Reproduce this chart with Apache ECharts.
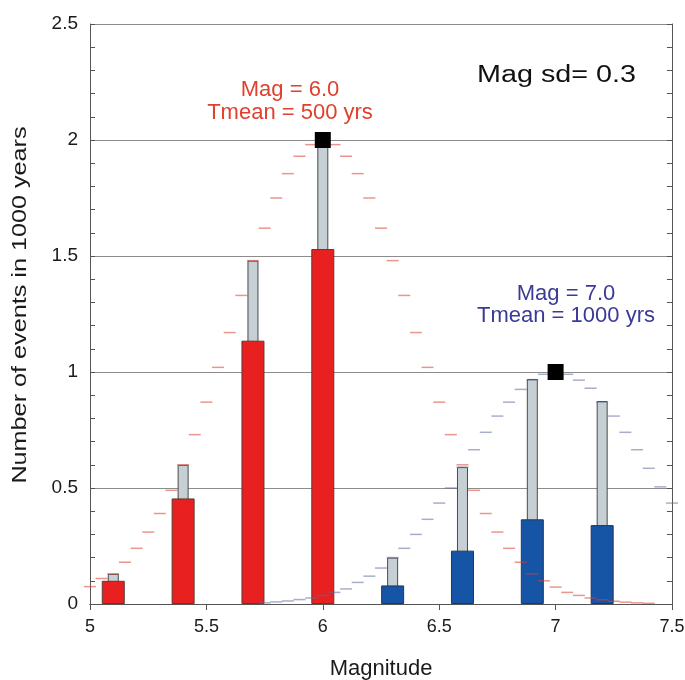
<!DOCTYPE html>
<html>
<head>
<meta charset="utf-8">
<title>Magnitude distribution</title>
<script src="https://cdn.jsdelivr.net/npm/echarts@6/dist/echarts.min.js"></script>
<style>
  html, body { margin: 0; padding: 0; background: #ffffff; }
  #chart { width: 685px; height: 680px; }
</style>
</head>
<body>
<div id="chart"></div>
<script>
// Simulated event counts per magnitude bin (coloured bars)
const redBinMag = [5.1, 5.4, 5.7, 6.0];
const redBinCount = [0.10, 0.455, 1.135, 1.53];
const blueBinMag = [6.3, 6.6, 6.9, 7.2];
const blueBinCount = [0.08, 0.23, 0.365, 0.34];

// Expected rate per bin (thin grey bars)
const expectedMag = [5.1, 5.4, 5.7, 6.0, 6.3, 6.6, 6.9, 7.2];
const expectedRate = [0.13, 0.60, 1.48, 2.0, 0.20, 0.59, 0.97, 0.875];

// Rate curve for the Mag 6.0 source (red dashes)
const redCurveMag = [5.00, 5.05, 5.10, 5.15, 5.20, 5.25, 5.30, 5.35, 5.40, 5.45,
  5.50, 5.55, 5.60, 5.65, 5.70, 5.75, 5.80, 5.85, 5.90, 5.95,
  6.00, 6.05, 6.10, 6.15, 6.20, 6.25, 6.30, 6.35, 6.40, 6.45,
  6.50, 6.55, 6.60, 6.65, 6.70, 6.75, 6.80, 6.85, 6.90, 6.95,
  7.00, 7.05, 7.10, 7.15, 7.20, 7.25, 7.30, 7.35, 7.40];
const redCurveRate = [0.075, 0.11, 0.13, 0.18, 0.24, 0.31, 0.39, 0.49, 0.60, 0.73,
  0.87, 1.02, 1.17, 1.33, 1.48, 1.62, 1.75, 1.855, 1.93, 1.98,
  2.00, 1.98, 1.93, 1.855, 1.75, 1.62, 1.48, 1.33, 1.17, 1.02,
  0.87, 0.73, 0.60, 0.49, 0.39, 0.31, 0.24, 0.18, 0.13, 0.10,
  0.073, 0.05, 0.037, 0.026, 0.018, 0.012, 0.008, 0.005, 0.003];

// Rate curve for the Mag 7.0 source (blue dashes)
const blueCurveMag = [5.75, 5.80, 5.85, 5.90, 5.95, 6.00, 6.05, 6.10, 6.15, 6.20,
  6.25, 6.30, 6.35, 6.40, 6.45, 6.50, 6.55, 6.60, 6.65, 6.70,
  6.75, 6.80, 6.85, 6.90, 6.95, 7.00, 7.05, 7.10, 7.15, 7.20,
  7.25, 7.30, 7.35, 7.40, 7.45, 7.50];
const blueCurveRate = [0.005, 0.009, 0.013, 0.019, 0.026, 0.037, 0.05, 0.065, 0.093, 0.12,
  0.155, 0.20, 0.24, 0.30, 0.365, 0.435, 0.50, 0.59, 0.665, 0.74,
  0.81, 0.87, 0.925, 0.965, 0.99, 1.0, 0.99, 0.965, 0.93, 0.87,
  0.81, 0.74, 0.665, 0.585, 0.505, 0.435];

// Characteristic magnitude / mean rate markers
const peakMag = [6.0, 7.0];
const peakRate = [2.0, 1.0];

// Axis ranges and tick steps
const magRange = [5, 7.5];
const rateRange = [0, 2.5];
const magStep = 0.5;
const rateStep = 0.5;

const FONT = '"Liberation Sans", Arial, Helvetica, sans-serif';
const pairs = (xs, ys) => xs.map((x, i) => [x, ys[i]]);

const chart = echarts.init(document.getElementById('chart'), null, { renderer: 'canvas' });

const axisLineStyle = { color: '#555555', width: 1 };

chart.setOption({
  backgroundColor: '#ffffff',
  animation: false,
  grid: {
    left: 90, top: 24, width: 582, height: 580,
    containLabel: false, outerBoundsMode: 'none'
  },
  xAxis: [
    {
      type: 'value', position: 'bottom',
      min: magRange[0], max: magRange[1], interval: magStep,
      name: 'Magnitude', nameLocation: 'middle', nameGap: 54,
      nameTextStyle: { fontFamily: FONT, fontSize: 22, color: '#1a1a1a' },
      axisLine: { show: true, lineStyle: axisLineStyle },
      axisTick: { show: true, inside: false, length: 6, lineStyle: axisLineStyle },
      axisLabel: { fontFamily: FONT, fontSize: 18, color: '#1a1a1a', margin: 14 },
      splitLine: { show: false }
    },
    {
      // top frame edge; also carries the thin expected-rate bars
      type: 'value', position: 'top',
      min: magRange[0], max: magRange[1], interval: magStep,
      axisLine: { show: true, lineStyle: axisLineStyle },
      axisTick: { show: false },
      axisLabel: { show: false },
      splitLine: { show: false }
    }
  ],
  yAxis: [
    {
      type: 'value', position: 'left',
      min: rateRange[0], max: rateRange[1], interval: rateStep,
      axisLine: { show: true, lineStyle: axisLineStyle },
      axisTick: { show: true, inside: true, length: 5, lineStyle: axisLineStyle },
      minorTick: { show: true, splitNumber: 5, length: 5, lineStyle: axisLineStyle },
      axisLabel: { fontFamily: FONT, fontSize: 19, color: '#1a1a1a', margin: 12 },
      splitLine: { show: true, lineStyle: { color: '#8c8c8c', width: 1 } }
    },
    {
      type: 'value', position: 'right',
      min: rateRange[0], max: rateRange[1], interval: rateStep,
      axisLine: { show: true, lineStyle: axisLineStyle },
      axisTick: { show: true, inside: true, length: 5, lineStyle: axisLineStyle },
      minorTick: { show: true, splitNumber: 5, length: 5, lineStyle: axisLineStyle },
      axisLabel: { show: false },
      splitLine: { show: false }
    }
  ],
  series: [
    {
      name: 'expected', type: 'bar', xAxisIndex: 1, yAxisIndex: 0,
      barWidth: 11, z: 2,
      itemStyle: { color: '#c6d0d4', borderColor: '#4a4a4a', borderWidth: 1 },
      data: pairs(expectedMag, expectedRate)
    },
    {
      name: 'Mag 6.0', type: 'bar', xAxisIndex: 0, yAxisIndex: 0,
      barWidth: 23, barGap: '-100%', z: 3,
      itemStyle: { color: '#e8201f', borderColor: '#5a3a32', borderWidth: 1 },
      data: pairs(redBinMag, redBinCount)
    },
    {
      name: 'Mag 7.0', type: 'bar', xAxisIndex: 0, yAxisIndex: 0,
      barWidth: 23, barGap: '-100%', z: 3,
      itemStyle: { color: '#1655a6', borderColor: '#2a3550', borderWidth: 1 },
      data: pairs(blueBinMag, blueBinCount)
    },
    {
      name: 'rate 6.0', type: 'scatter', xAxisIndex: 0, yAxisIndex: 0,
      symbol: 'rect', symbolSize: [12, 1.5], z: 4, clip: false,
      itemStyle: { color: '#d8402f', opacity: 0.55 },
      data: pairs(redCurveMag, redCurveRate)
    },
    {
      name: 'rate 7.0', type: 'scatter', xAxisIndex: 0, yAxisIndex: 0,
      symbol: 'rect', symbolSize: [12, 1.5], z: 4, clip: false,
      itemStyle: { color: '#5f6c9e', opacity: 0.55 },
      data: pairs(blueCurveMag, blueCurveRate)
    },
    {
      name: 'peak', type: 'scatter', xAxisIndex: 0, yAxisIndex: 0,
      symbol: 'rect', symbolSize: 16, z: 5,
      itemStyle: { color: '#000000', opacity: 1 },
      data: pairs(peakMag, peakRate)
    }
  ],
  graphic: [
    {
      // vertical axis title
      type: 'text', x: 20, y: 305, rotation: Math.PI / 2, scaleX: 1.2, z: 10,
      style: {
        text: 'Number of events in 1000 years', fontFamily: FONT, fontSize: 21,
        fill: '#1a1a1a', align: 'center', verticalAlign: 'middle'
      }
    },
    {
      type: 'text', x: 477, y: 76, scaleX: 1.25, z: 10,
      style: {
        text: 'Mag sd= 0.3', fontFamily: FONT, fontSize: 23, fill: '#111111',
        align: 'left', verticalAlign: 'middle'
      }
    },
    {
      type: 'text', x: 290, y: 78, z: 10,
      style: {
        text: 'Mag = 6.0\nTmean = 500 yrs', fontFamily: FONT, fontSize: 22,
        lineHeight: 23, fill: '#e0402e', align: 'center'
      }
    },
    {
      type: 'text', x: 566, y: 283, z: 10,
      style: {
        text: 'Mag = 7.0\nTmean = 1000 yrs', fontFamily: FONT, fontSize: 22,
        lineHeight: 22, fill: '#3a3a98', align: 'center'
      }
    }
  ]
});
</script>
</body>
</html>
